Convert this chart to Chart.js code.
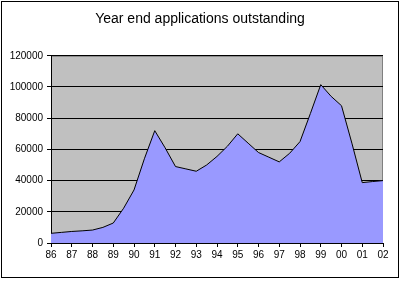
<!DOCTYPE html>
<html>
<head>
<meta charset="utf-8">
<script src="https://cdn.jsdelivr.net/npm/chart.js@4.4.0/dist/chart.umd.min.js"></script>
<style>
  html, body { margin: 0; padding: 0; background: #fff; }
  #wrap { width: 400px; height: 281px; position: relative; }
</style>
</head>
<body>
<div id="wrap"><canvas id="outstanding"></canvas></div>
<script>
// half-yearly points, label only on the year
const years = ['86','87','88','89','90','91','92','93','94','95','96','97','98','99','00','01','02'];
const applications = [
    6200, 6800, 7400, 7800, 8300, 10000, 12800, 22300,
    34000, 54000, 72000, 61000, 49000, 47500, 46000, 50000,
    55500, 62000, 70000, 64000, 58000, 55000, 52000, 57500,
    65000, 83000, 101500, 94000, 88000, 64000, 38700, 39400,
    40000
];

const labels = [];
applications.forEach((v, i) => {
    labels.push(i % 2 === 0 ? years[i / 2] : '');
});

//Grey plot area + outer frame like the old excel chart
const excelFrame = {
    id: 'excelFrame',
    beforeDraw(chart) {
        const c = chart.ctx;
        const a = chart.chartArea;
        c.save();
        c.fillStyle = '#C0C0C0';
        c.fillRect(a.left, a.top, a.right - a.left, a.bottom - a.top);
        c.strokeStyle = '#808080';
        c.lineWidth = 1;
        c.strokeRect(a.left + 0.5, a.top + 0.5, a.right - a.left - 1, a.bottom - a.top);
        c.restore();
    },
    afterDraw(chart) {
        const c = chart.ctx;
        c.save();
        c.strokeStyle = '#000';
        c.lineWidth = 1;
        c.strokeRect(1.5, 1.5, 397, 276);
        c.restore();
    }
};

Chart.defaults.font.family = "'Liberation Sans', Arial, sans-serif";
Chart.defaults.color = '#000';

const ctx = document.getElementById('outstanding').getContext('2d');

new Chart(ctx, {
    type: 'line',
    data: {
        labels: labels,
        datasets: [{
            label: 'Outstanding',
            data: applications,
            backgroundColor: '#9999FF',
            borderColor: '#000',
            borderWidth: 1,
            fill: 'origin',
            tension: 0,
            pointRadius: 0
        }]
    },
    options: {
        responsive: true,
        maintainAspectRatio: false,
        animation: false,
        layout: {
            padding: 0
        },
        scales: {
            x: {
                offset: false,
                afterFit(scale) { scale.height = 38; },
                grid: {
                    drawOnChartArea: false,
                    tickLength: 4,
                    tickColor: (c) => (c.index % 2 === 0 ? '#000' : 'rgba(0,0,0,0)')
                },
                border: { color: '#000' },
                ticks: {
                    autoSkip: false,
                    maxRotation: 0,
                    padding: 2,
                    font: { size: 10 }
                }
            },
            y: {
                min: 0,
                max: 120000,
                afterFit(scale) { scale.width = 51; },
                grid: {
                    color: '#000',
                    tickLength: 4,
                    tickColor: '#000'
                },
                border: { color: '#000' },
                ticks: {
                    stepSize: 20000,
                    padding: 4,
                    font: { size: 10 },
                    callback: (value) => String(value)
                }
            },
            //empty right side so the title stays centred on the page
            spacer: {
                position: 'right',
                afterFit(scale) { scale.width = 17; },
                grid: { drawOnChartArea: false, drawTicks: false },
                border: { display: false },
                ticks: { display: false }
            }
        },
        plugins: {
            legend: { display: false },
            tooltip: { enabled: false },
            title: {
                display: true,
                text: 'Year end applications outstanding',
                font: { size: 14, weight: 'normal' },
                padding: { top: 11, bottom: 28 }
            }
        }
    },
    plugins: [excelFrame]
});
</script>
</body>
</html>
